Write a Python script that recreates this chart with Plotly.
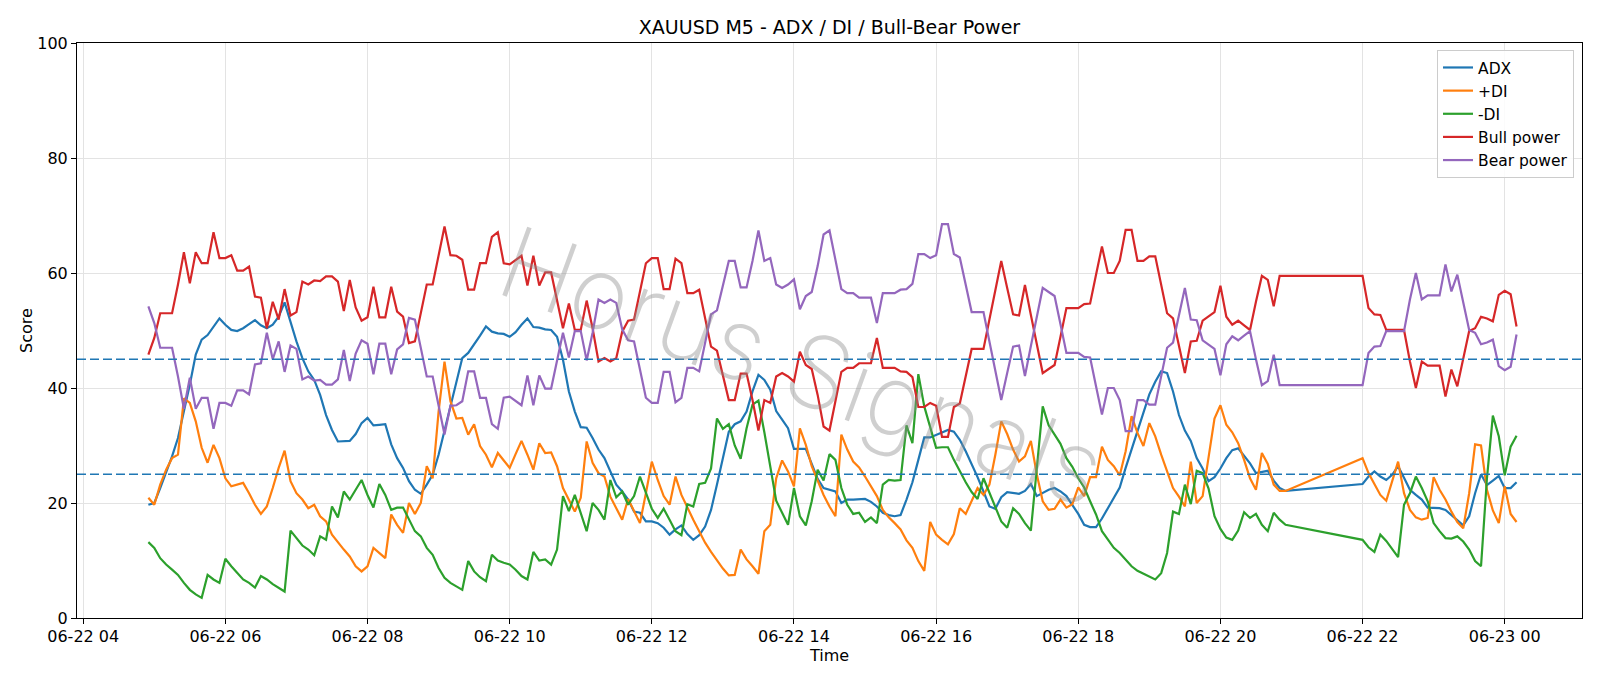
import pandas as pd
import plotly.graph_objects as go

# ---- time axis (5-minute bars, one session gap) ----
times_a = pd.date_range("2025-06-22 04:55", "2025-06-22 20:55", freq="5min")
times_b = pd.date_range("2025-06-22 22:00", "2025-06-23 00:10", freq="5min")
times = list(times_a) + list(times_b)

# ---- series values ----
adx = [
    19.7, 20.0, 22.6, 25.2, 28.1, 31.3, 35.9, 40.6, 45.8, 48.4, 49.2, 50.7, 52.1, 51.0, 50.1, 49.9, 50.4, 51.1, 51.8, 50.9,
    50.4, 51.0, 52.4, 54.9, 51.3, 48.1, 45.2, 42.9, 41.4,
    38.8, 35.3, 32.7, 30.7, 30.7, 30.8, 32.0, 33.9, 34.8, 33.5, 33.6, 33.7, 30.2, 27.8, 26.1, 23.8, 22.3, 21.6, 23.2, 24.9,
    28.4, 32.5, 36.5, 41.1, 45.2, 46.1, 47.5, 49.1, 50.7,
    49.8, 49.5, 49.4, 48.9, 49.7, 51.0, 52.1, 50.6, 50.5, 50.2, 50.1, 48.9, 44.9, 39.4, 35.9, 33.2, 33.1, 31.3, 29.3, 27.8,
    25.5, 23.2, 22.0, 20.6, 18.5, 18.3, 16.8, 16.8, 16.5,
    15.7, 14.5, 15.4, 16.1, 14.6, 13.6, 14.4, 15.9, 18.8, 23.2, 27.8, 32.4, 33.7, 34.2, 35.9, 39.4, 42.3, 41.4, 39.7, 36.0,
    34.5, 33.0, 29.4, 29.4, 29.4, 26.8, 24.2, 22.6, 22.3,
    22.0, 20.0, 20.6, 20.6, 20.6, 20.7, 20.2, 19.4, 18.3, 17.9, 17.7, 17.9, 20.6, 23.6, 27.5, 31.4, 31.4, 31.8, 32.3, 32.7,
    32.4, 31.0, 29.0, 26.8, 24.5, 22.0, 19.4, 19.0,
    21.0, 21.9, 21.7, 21.6, 22.1, 23.3, 21.2, 21.7, 22.3, 22.6, 22.0, 21.2, 19.7, 18.1, 16.2, 15.8, 15.8, 17.3, 19.1, 20.9,
    22.7, 26.1, 29.4, 32.7, 36.0, 38.9, 41.1, 42.9, 42.6,
    39.4, 35.3, 32.6, 30.8, 27.8, 26.0, 23.8, 24.5, 26.0, 27.8, 29.2, 29.5, 28.1, 26.9, 25.2, 25.4, 25.6, 23.9, 22.6, 22.1,
    23.3, 24.6, 25.5, 24.6, 24.0, 24.9, 26.4, 24.4, 22.3, 21.4, 20.6, 19.2, 19.1, 19.1, 18.8, 17.9, 16.9, 16.1, 17.7, 21.7,
    25.0, 23.1, 23.9, 24.7, 22.6, 22.6, 23.6,
]

plus_di = [
    20.9, 19.7, 23.2, 25.8, 27.8, 28.4, 38.2, 37.4, 34.2, 29.6, 27.0, 30.1, 27.8, 24.3, 22.9, 23.2, 23.5, 21.7, 19.7, 18.1,
    19.4, 22.6, 26.1, 29.1, 23.8, 21.7, 20.6, 19.1, 19.7,
    17.7, 16.8, 14.5, 13.1, 11.9, 10.7, 9.0, 8.1, 9.0, 12.2, 11.3, 10.4, 18.0, 16.2, 14.8, 20.0, 18.1, 20.0, 26.4, 24.3,
    35.9, 44.6, 37.7, 34.7, 34.8, 31.9, 33.7, 29.9, 28.4,
    26.2, 28.7, 27.5, 26.1, 28.5, 30.8, 28.4, 25.8, 30.4, 28.7, 28.8, 26.4, 22.6, 20.6, 18.5, 20.9, 30.7, 27.0, 25.2, 24.6,
    21.1, 19.1, 17.1, 20.7, 18.7, 16.5, 21.7, 27.2, 24.0,
    21.2, 19.7, 24.6, 21.4, 19.1, 17.1, 15.1, 13.1, 11.5, 10.0, 8.6, 7.4, 7.5, 11.9, 10.2, 9.0, 7.7, 15.1, 16.2, 24.3,
    27.4, 25.5, 22.9, 33.0, 30.1, 26.4, 24.0, 21.4, 19.4,
    17.7, 31.9, 29.3, 27.2, 26.2, 24.6, 22.9, 21.2, 18.8, 17.5, 16.5, 15.4, 13.5, 12.2, 9.9, 8.2, 16.7, 14.5, 13.6, 12.8,
    14.6, 19.1, 18.1, 20.3, 22.6, 21.4, 23.2, 28.4,
    34.2, 32.0, 29.3, 27.2, 28.1, 30.8, 25.0, 20.3, 18.8, 19.0, 20.6, 19.2, 19.8, 22.7, 21.2, 24.5, 24.5, 29.8, 27.5, 26.4,
    24.8, 29.0, 35.1, 32.2, 29.9, 33.9, 31.6, 28.4, 25.5,
    22.6, 21.1, 19.4, 27.2, 20.0, 21.2, 28.4, 34.7, 37.0, 33.6, 32.3, 30.4, 27.5, 24.3, 22.3, 28.7, 26.8, 23.2, 22.1, 22.1,
    27.8, 25.2, 23.3, 21.4, 20.4, 23.6, 27.2, 21.7, 18.8, 17.5, 17.1, 17.4, 24.5, 22.3, 20.6, 18.5, 16.7, 15.6, 21.7, 30.2,
    30.0, 22.3, 18.7, 16.5, 22.9, 18.1, 16.7,
]

minus_di = [
    13.2, 12.2, 10.4, 9.3, 8.4, 7.5, 6.1, 4.9, 4.1, 3.5, 7.5, 6.7, 6.1, 10.3, 9.0, 7.8, 6.7, 6.1, 5.3, 7.3,
    6.7, 5.9, 5.3, 4.6, 15.2, 13.9, 12.6, 11.9, 10.9,
    14.2, 13.6, 19.4, 17.5, 22.0, 20.6, 22.3, 24.0, 21.4, 19.2, 23.3, 21.4, 18.8, 19.2, 19.2, 17.1, 15.1, 14.2, 12.2, 11.0,
    8.7, 7.0, 6.1, 5.5, 4.9, 9.9, 8.1, 7.1, 6.4,
    11.0, 10.0, 9.6, 9.3, 8.4, 7.3, 6.7, 11.5, 10.0, 10.2, 9.3, 11.9, 21.2, 18.6, 21.4, 18.3, 15.1, 20.0, 18.8, 17.1,
    24.0, 21.0, 22.0, 19.7, 21.2, 24.6, 21.7, 19.0, 17.4,
    19.0, 17.1, 15.1, 14.4, 19.8, 19.4, 23.3, 23.5, 26.0, 34.7, 32.9, 33.7, 30.0, 27.7, 33.0, 37.1, 37.8, 32.3, 26.7, 20.4,
    18.3, 16.2, 22.6, 17.7, 16.1, 20.3, 25.8, 23.9, 28.5,
    27.5, 22.6, 19.7, 18.1, 18.3, 16.7, 17.5, 16.5, 23.2, 24.0, 23.9, 24.0, 33.5, 30.4, 42.4, 36.8, 33.3, 29.6, 29.7, 29.7,
    27.5, 25.5, 23.6, 21.9, 20.7, 24.3, 21.7, 19.4,
    16.8, 15.7, 19.1, 18.1, 16.5, 15.2, 26.0, 36.8, 33.5, 32.0, 30.3, 27.8, 26.3, 24.3, 22.7, 20.3, 18.0, 15.1, 13.6, 12.2,
    11.3, 10.2, 9.0, 8.2, 7.7, 7.1, 6.7, 7.8, 11.3,
    18.5, 18.1, 23.2, 19.8, 25.6, 25.2, 22.5, 17.7, 15.5, 14.0, 13.6, 15.2, 18.4, 17.4, 18.1, 16.2, 15.1, 18.3, 17.1, 16.2,
    13.6, 12.3, 11.5, 14.5, 13.4, 11.9, 10.6, 19.7, 21.7, 24.6, 22.6, 20.3, 16.5, 15.1, 13.9, 13.8, 14.2, 13.3, 11.9, 9.9,
    9.0, 24.3, 35.2, 31.6, 24.8, 29.8, 31.7,
]

bull_power = [
    45.8, 48.7, 53.0, 53.0, 53.0, 58.0, 63.6, 58.2, 63.6, 61.7, 61.7, 67.1, 62.6, 62.6, 63.1, 60.4, 60.4, 61.1, 55.9, 55.7,
    50.4, 55.0, 51.9, 57.2, 52.6, 53.2, 58.5, 58.0, 58.7,
    58.6, 59.4, 59.4, 58.5, 53.4, 58.8, 54.0, 51.7, 52.3, 57.6, 52.3, 52.3, 57.6, 53.3, 52.4, 47.8, 48.1, 53.0, 58.0, 58.0,
    63.1, 68.1, 63.1, 63.0, 62.3, 57.1, 57.1, 61.7, 61.7,
    66.3, 67.1, 61.7, 61.5, 62.3, 63.0, 57.8, 63.0, 57.8, 60.1, 60.1, 55.0, 50.4, 54.7, 50.1, 50.1, 55.2, 50.4, 44.6, 45.2,
    44.6, 45.2, 49.8, 51.7, 51.9, 56.8, 61.7, 62.6, 62.6,
    57.2, 57.2, 62.5, 61.7, 56.5, 56.5, 57.1, 52.1, 47.2, 46.5, 42.3, 37.9, 37.9, 42.5, 42.5, 37.9, 32.6, 37.9, 37.4, 42.0,
    42.6, 42.0, 41.1, 46.3, 44.0, 43.3, 38.8, 33.3, 32.6,
    37.4, 42.8, 43.5, 43.5, 44.3, 44.3, 44.3, 48.7, 43.5, 43.5, 43.5, 42.9, 42.8, 41.9, 36.7, 36.7, 37.4, 36.9, 31.5, 31.5,
    36.7, 37.3, 42.1, 46.8, 46.8, 46.8, 51.9, 57.1,
    62.1, 57.4, 52.8, 52.6, 57.9, 52.7, 47.6, 42.6, 43.3, 44.0, 48.9, 53.9, 53.9, 53.9, 54.6, 54.7, 59.7, 64.6, 60.0, 60.0,
    62.1, 67.5, 67.5, 62.1, 62.1, 62.9, 62.9, 58.0, 53.0,
    52.1, 47.2, 42.6, 48.1, 48.2, 51.7, 52.4, 53.2, 57.8, 52.4, 51.0, 51.7, 50.9, 50.1, 55.0, 59.5, 58.8, 54.2, 59.5, 59.5,
    59.5, 53.9, 52.8, 52.7, 50.1, 50.1, 50.1, 50.1, 44.6, 40.0, 44.6, 43.9, 43.9, 43.9, 38.5, 43.2, 40.3, 45.2, 49.9, 50.4,
    52.4, 52.1, 51.6, 56.2, 56.9, 56.3, 50.7,
]

bear_power = [
    54.2, 51.3, 47.0, 47.0, 47.0, 42.0, 36.4, 41.8, 36.4, 38.3, 38.3, 32.9, 37.4, 37.4, 36.9, 39.6, 39.6, 38.9, 44.1, 44.3,
    49.6, 45.0, 48.1, 42.8, 47.4, 46.8, 41.5, 42.0, 41.3,
    41.4, 40.6, 40.6, 41.5, 46.6, 41.2, 46.0, 48.3, 47.7, 42.4, 47.7, 47.7, 42.4, 46.7, 47.6, 52.2, 51.9, 47.0, 42.0, 42.0,
    36.9, 31.9, 36.9, 37.0, 37.7, 42.9, 42.9, 38.3, 38.3,
    33.7, 32.9, 38.3, 38.5, 37.7, 37.0, 42.2, 37.0, 42.2, 39.9, 39.9, 45.0, 49.6, 45.3, 49.9, 49.9, 44.8, 49.6, 55.4, 54.8,
    55.4, 54.8, 50.2, 48.3, 48.1, 43.2, 38.3, 37.4, 37.4,
    42.8, 42.8, 37.5, 38.3, 43.5, 43.5, 42.9, 47.9, 52.8, 53.5, 57.7, 62.1, 62.1, 57.5, 57.5, 62.1, 67.4, 62.1, 62.6, 58.0,
    57.4, 58.0, 58.9, 53.7, 56.0, 56.7, 61.2, 66.7, 67.4,
    62.6, 57.2, 56.5, 56.5, 55.7, 55.7, 55.7, 51.3, 56.5, 56.5, 56.5, 57.1, 57.2, 58.1, 63.3, 63.3, 62.6, 63.1, 68.5, 68.5,
    63.3, 62.7, 57.9, 53.2, 53.2, 53.2, 48.1, 42.9,
    37.9, 42.6, 47.2, 47.4, 42.1, 47.3, 52.4, 57.4, 56.7, 56.0, 51.1, 46.1, 46.1, 46.1, 45.4, 45.3, 40.3, 35.4, 40.0, 40.0,
    37.9, 32.5, 32.5, 37.9, 37.9, 37.1, 37.1, 42.0, 47.0,
    47.9, 52.8, 57.4, 51.9, 51.8, 48.3, 47.6, 46.8, 42.2, 47.6, 49.0, 48.3, 49.1, 49.9, 45.0, 40.5, 41.2, 45.8, 40.5, 40.5,
    40.5, 46.1, 47.2, 47.3, 49.9, 49.9, 49.9, 49.9, 55.4, 60.0, 55.4, 56.1, 56.1, 56.1, 61.5, 56.8, 59.7, 54.8, 50.1, 49.6,
    47.6, 47.9, 48.4, 43.8, 43.1, 43.7, 49.3,
]

series_names = ["ADX", "+DI", "-DI", "Bull power", "Bear power"]
series_values = [adx, plus_di, minus_di, bull_power, bear_power]
series_colors = ["#1f77b4", "#ff7f0e", "#2ca02c", "#d62728", "#9467bd"]

threshold_levels = [45, 25]
y_ticks = [0, 20, 40, 60, 80, 100]

FONT = "DejaVu Sans, Liberation Sans, sans-serif"

fig = go.Figure()
for name, vals, col in zip(series_names, series_values, series_colors):
    fig.add_trace(go.Scatter(
        x=times, y=vals, mode="lines", name=name,
        line=dict(color=col, width=2.2),
    ))

for lvl in threshold_levels:
    fig.add_shape(type="line", xref="paper", x0=0, x1=1, yref="y", y0=lvl, y1=lvl,
                  line=dict(color="#1f77b4", width=1.5, dash="9px,4px"), layer="above")

# watermark
fig.add_annotation(
    text="Horus Signals", xref="paper", yref="paper", x=0.482, y=0.44,
    showarrow=False, textangle=20,
    font=dict(family="Inter, DejaVu Sans, sans-serif", size=100, color="rgba(140,140,140,0.42)", weight=200),
)

axis_common = dict(
    showline=True, linecolor="black", linewidth=1, mirror=True,
    ticks="outside", ticklen=5, tickwidth=1, tickcolor="black",
    showgrid=True, gridcolor="#e3e3e3", gridwidth=1, zeroline=False,
    tickfont=dict(family=FONT, size=16, color="black"),
    title_font=dict(family=FONT, size=16, color="black"),
)

fig.update_layout(
    width=1600, height=686,
    margin=dict(l=77, r=18, t=43, b=68),
    paper_bgcolor="white", plot_bgcolor="white",
    font=dict(family=FONT, size=16, color="black"),
    title=dict(text="XAUUSD M5 - ADX / DI / Bull-Bear Power", x=0.5, xref="paper", xanchor="center",
               y=1 - 27.5 / 686, yref="container", yanchor="middle",
               font=dict(family=FONT, size=19, color="black")),
    showlegend=True,
    legend=dict(x=0.9947, y=0.988, xanchor="right", yanchor="top",
                bgcolor="rgba(255,255,255,0.85)", bordercolor="#cccccc", borderwidth=1,
                font=dict(family=FONT, size=15.5, color="black"), tracegroupgap=0),
    xaxis=dict(type="date", range=["2025-06-22 03:54:45", "2025-06-23 01:05:15"],
               tick0="2025-06-22 04:00", dtick=7200000, tickformat="%m-%d %H",
               title=dict(text="Time", standoff=3), ticklabelstandoff=-1, automargin=False, **axis_common),
    yaxis=dict(range=[0, 100], tickvals=y_ticks, title=dict(text="Score", standoff=0),
               ticklabelstandoff=0, automargin=False, **axis_common),
)

fig.write_html("out.html")
